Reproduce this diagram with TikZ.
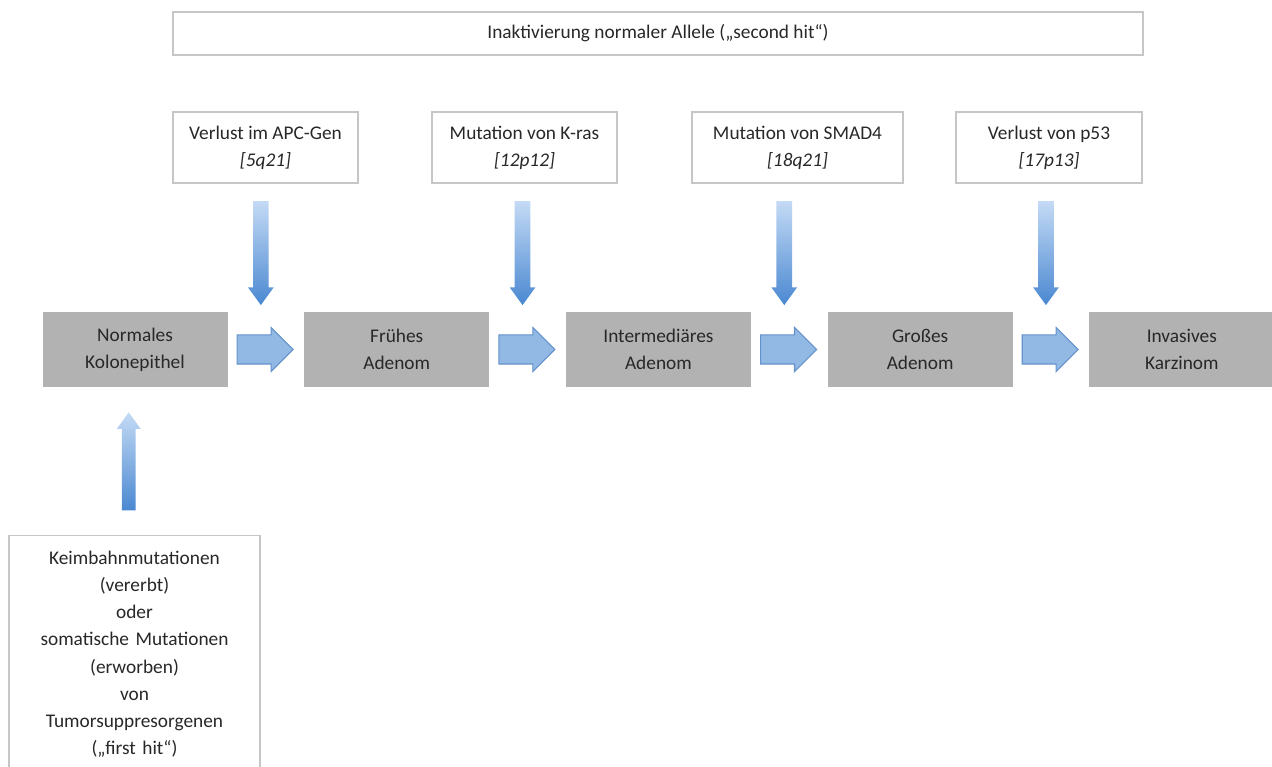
\documentclass[tikz,border=0pt]{standalone}
\usepackage{fontspec}
\setmainfont{Carlito}
\usetikzlibrary{positioning,shapes.arrows,calc}
\definecolor{boxgray}{RGB}{178,178,178}
\definecolor{framegray}{RGB}{198,198,198}
\definecolor{txtgray}{RGB}{40,40,40}
\definecolor{arrowfill}{RGB}{146,184,228}
\definecolor{arrowedge}{RGB}{100,146,204}
\definecolor{arrowtop}{RGB}{196,218,245}
\definecolor{arrowbot}{RGB}{74,136,209}

\tikzset{
  every node/.style={font=\fontsize{11}{15.5}\selectfont, text=txtgray},
  stagebox/.style={fill=boxgray, minimum width=3.7cm, minimum height=1.5cm, align=center, inner sep=0pt},
  hitbox/.style={draw=framegray, line width=0.8pt, fill=white, align=center, minimum height=1.42cm, inner sep=0pt},
  fatarrow/.style={single arrow, draw=arrowedge, fill=arrowfill, line width=0.6pt, xshift=-0.16cm,
    minimum height=1.12cm, inner xsep=0pt, inner ysep=0.28cm, single arrow head extend=0.15cm},
  thinarrow/.style={single arrow, draw=none, minimum height=2.08cm, inner sep=0.15cm,
    single arrow head extend=0.1cm, single arrow tip angle=72},
  downarrow/.style={thinarrow, shape border rotate=270, xshift=-0.1cm, top color=arrowtop, bottom color=arrowbot},
  uparrow/.style={thinarrow, shape border rotate=90, xshift=-0.12cm, yshift=-0.1cm, inner sep=0.13cm,
    minimum height=1.96cm, top color=arrowtop, bottom color=arrowbot}
}

\begin{document}
\begin{tikzpicture}
\useasboundingbox (0,0) rectangle (25.44,-15.34);
% second hit
\node[hitbox, minimum width=19.4cm, minimum height=0.86cm] (top) at (13.16,-0.67) {Inaktivierung normaler Allele („second hit“)};
% stages
\node[stagebox] (n1) at (2.70,-6.99) {Normales\\Kolonepithel};
\node[stagebox, right=1.52cm of n1] (n2) {Frühes\\Adenom};
\node[stagebox, right=1.52cm of n2] (n3) {Intermediäres\\Adenom};
\node[stagebox, right=1.52cm of n3] (n4) {Großes\\Adenom};
\node[stagebox, right=1.52cm of n4] (n5) {Invasives\\Karzinom};
% mutations
\node[hitbox, minimum width=3.7cm] (m1) at (5.31,-2.95) {Verlust im APC-Gen\\\textit{[5q21]}};
\node[hitbox, minimum width=3.7cm] (m2) at (10.49,-2.95) {Mutation von K-ras\\\textit{[12p12]}};
\node[hitbox, minimum width=4.22cm] (m3) at (15.95,-2.95) {Mutation von SMAD4\\\textit{[18q21]}};
\node[hitbox, minimum width=3.72cm] (m4) at (20.98,-2.95) {Verlust von p53\\\textit{[17p13]}};
% first hit
\node[hitbox, text width=5.02cm, anchor=north, inner ysep=0.3cm] (b) at (2.69,-10.7)
  {Keimbahnmutationen\\(vererbt)\\oder\\somatische Mutationen\\(erworben)\\von\\Tumorsuppresorgenen\\(„first hit“)};
% arrows between stages
\foreach \i/\j in {1/2,2/3,3/4,4/5}{
  \coordinate (g\i) at ($(n\i.east)!0.5!(n\j.west)$);
  \path (n\i) -- node[fatarrow]{} (n\j);
}
\foreach \i in {1,...,4}{
  \path (m\i.south -| g\i) -- node[downarrow]{} (g\i |- n1.north);
}
\path (b.north) -- node[uparrow]{} (n1.south);
\end{tikzpicture}
\end{document}
